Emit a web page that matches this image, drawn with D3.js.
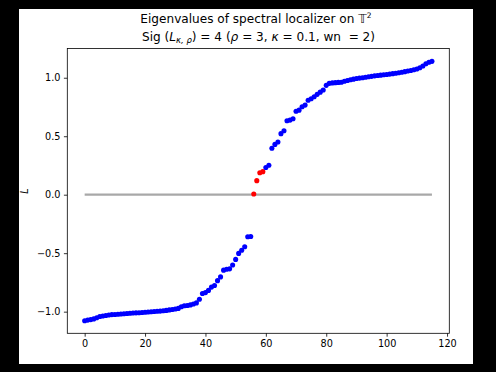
<!DOCTYPE html>
<html><head><meta charset="utf-8">
<script src="https://cdn.jsdelivr.net/npm/d3@7"></script>
<style>html,body{margin:0;padding:0;background:#000;overflow:hidden}svg{display:block}</style>
</head><body><script>
const xTicks = [0, 20, 40, 60, 80, 100, 120];
const yTicks = [-1.0, -0.5, 0.0, 0.5, 1.0];
const eigenvalues = [
 -1.078,-1.072,-1.068,-1.062,-1.052,-1.042,-1.037,-1.033,-1.028,-1.025,
 -1.024,-1.022,-1.020,-1.018,-1.016,-1.014,-1.012,-1.010,-1.009,-1.007,
 -1.005,-1.003,-1.001,-0.999,-0.997,-0.995,-0.992,-0.989,-0.985,-0.981,
 -0.977,-0.972,-0.958,-0.950,-0.947,-0.942,-0.934,-0.925,-0.894,-0.845,
 -0.837,-0.818,-0.790,-0.776,-0.735,-0.703,-0.645,-0.638,-0.634,-0.601,
 -0.553,-0.502,-0.475,-0.445,-0.360,-0.358,
 0.006,0.120,0.188,0.197,0.232,0.252,0.397,0.430,0.450,0.522,
 0.547,0.632,0.638,0.650,0.714,0.723,0.752,0.766,0.808,0.820,
 0.838,0.858,0.877,0.895,0.935,0.952,0.956,0.958,0.960,0.962,
 0.970,0.977,0.983,0.988,0.993,0.997,1.000,1.004,1.008,1.012,
 1.016,1.019,1.022,1.025,1.028,1.031,1.035,1.039,1.043,1.047,
 1.052,1.057,1.062,1.068,1.075,1.085,1.100,1.120,1.132,1.140
];
const redIndices = [56, 57, 58, 59];
const zeroLineValue = 0;

const W = 496, H = 372;
const svg = d3.select("body").append("svg").attr("width", W).attr("height", H);
svg.append("rect").attr("x", 19).attr("y", 9).attr("width", 454).attr("height", 355).attr("fill", "#fff");

const x = d3.scaleLinear().domain([-5.75, 120.75]).range([67.3, 449.3]);
const y = d3.scaleLinear().domain([-1.185, 1.25]).range([333.3, 48.5]);

const font = "DejaVu Sans, sans-serif";

// zero line
const n = eigenvalues.length;
svg.append("path")
  .datum([[0, zeroLineValue], [n - 1, zeroLineValue]])
  .attr("d", d3.line().x(d => x(d[0])).y(d => y(d[1])))
  .attr("stroke", "#a8a8a8").attr("stroke-width", 2.2).attr("fill", "none");

// points
svg.append("g").selectAll("circle").data(eigenvalues).join("circle")
  .attr("cx", (d, i) => x(i)).attr("cy", d => y(d)).attr("r", 2.55)
  .attr("fill", (d, i) => redIndices.includes(i) ? "#ff0000" : "#0000ff");

// axes
const fmtY = d3.format(".1f");
const xAxis = svg.append("g").attr("transform", "translate(0,333.3)")
  .call(d3.axisBottom(x).tickValues(xTicks).tickSize(3.4).tickPadding(3.4).tickSizeOuter(0).tickFormat(d3.format("d")));
const yAxis = svg.append("g").attr("transform", "translate(67.3,0)")
  .call(d3.axisLeft(y).tickValues(yTicks).tickSize(3.4).tickPadding(3.4).tickSizeOuter(0).tickFormat(fmtY));
[xAxis, yAxis].forEach(a => {
  a.select(".domain").remove();
  a.selectAll("line").attr("stroke", "#000").attr("stroke-width", 0.8);
  a.selectAll("text").attr("font-family", font).attr("font-size", "9.7px").attr("fill", "#000");
});

// spines
svg.append("rect").attr("x", 67.3).attr("y", 48.5).attr("width", 382).attr("height", 284.8)
  .attr("fill", "none").attr("stroke", "#000").attr("stroke-width", 0.8);

// y label
svg.append("text").attr("transform", "translate(28.3,191) rotate(-90)")
  .attr("text-anchor", "middle").attr("font-family", font).attr("font-style", "italic")
  .attr("font-size", "9.7px").text("L");

// title
const t1 = svg.append("text").attr("x", 256).attr("y", 23).attr("text-anchor", "middle")
  .attr("font-family", font).attr("font-size", "12.1px");
t1.append("tspan").text("Eigenvalues of spectral localizer on ");
t1.append("tspan").text("𝕋");
t1.append("tspan").attr("font-size", "7.5px").attr("dy", -5).text("2");

const t2 = svg.append("text").attr("x", 258.5).attr("y", 40.5).attr("text-anchor", "middle")
  .attr("font-family", font).attr("font-size", "12.1px").attr("xml:space", "preserve");
t2.append("tspan").text("Sig (");
t2.append("tspan").attr("font-style", "italic").text("L");
t2.append("tspan").attr("font-style", "italic").attr("font-size", "8.5px").attr("dy", 2.5).text("κ, ρ");
t2.append("tspan").attr("dy", -2.5).text(") = 4 (");
t2.append("tspan").attr("font-style", "italic").text("ρ");
t2.append("tspan").text(" = 3, ");
t2.append("tspan").attr("font-style", "italic").text("κ");
t2.append("tspan").text(" = 0.1, wn  = 2)");
</script></body></html>
